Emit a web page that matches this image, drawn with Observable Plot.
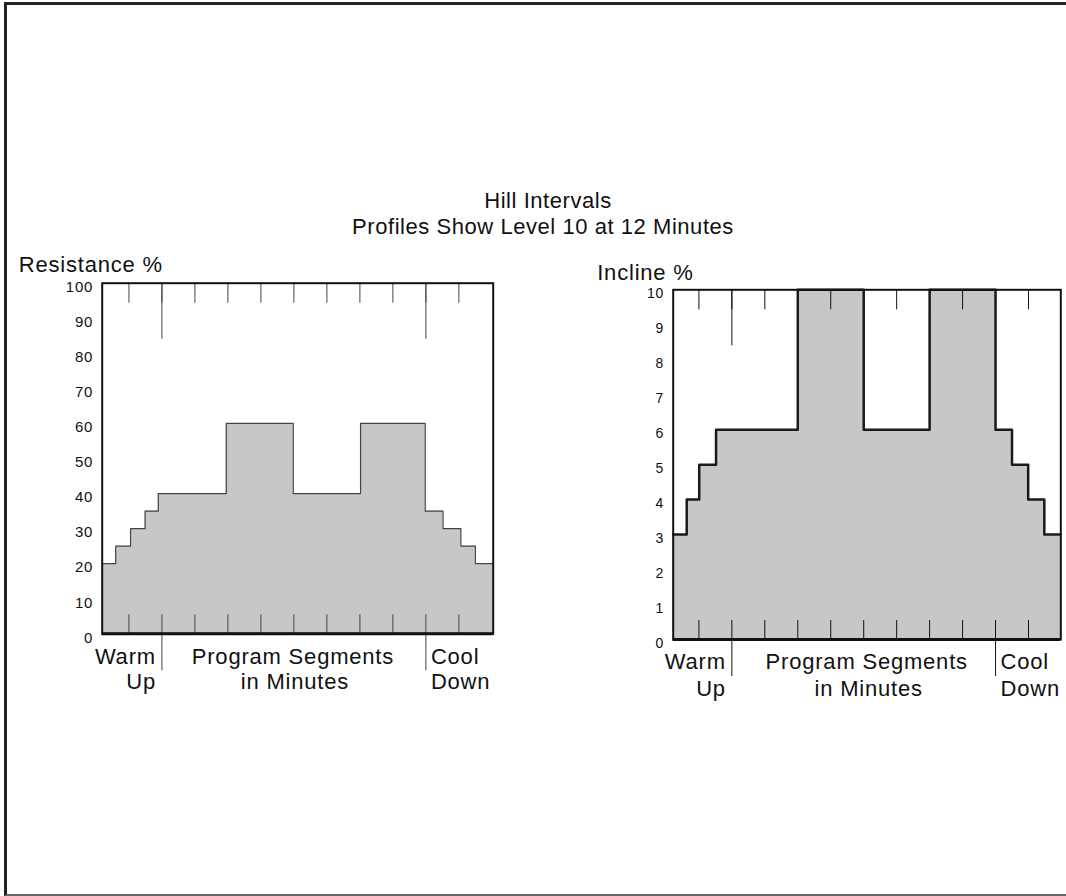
<!DOCTYPE html>
<html>
<head>
<meta charset="utf-8">
<script src="https://cdn.jsdelivr.net/npm/d3@7"></script>
<script src="https://cdn.jsdelivr.net/npm/@observablehq/plot@0.6"></script>
<style>
  body { margin: 0; background: #fff; }
  #page { position: relative; width: 1066px; height: 896px; overflow: hidden;
          font-family: "Liberation Sans", Arial, Helvetica, sans-serif; color: #111; }
  #border { position: absolute; left: 4px; top: 2px; width: 1080px; height: 889px;
            border-top: 3px solid #222; border-left: 3px solid #222; border-bottom: 2px solid #666; }
  .title { position: absolute; width: 600px; text-align: center; font-size: 22px;
           line-height: 22px; letter-spacing: 0.55px; white-space: nowrap; }
  .chart { position: absolute; }
</style>
</head>
<body>
<div id="page">
  <div id="border"></div>
  <div class="title" id="t1" style="left:248px;top:190px;">Hill Intervals</div>
  <div class="title" id="t2" style="left:243px;top:216px;">Profiles Show Level 10 at 12 Minutes</div>
  <div class="chart" id="left" style="left:0px;top:240px;"></div>
  <div class="chart" id="right" style="left:560px;top:240px;"></div>
</div>
<script>
// ---- data ----
const minuteTicks = [1, 2, 3, 4, 5, 6, 7, 8, 9, 10, 11];
const phaseTicks = [2, 10];
const resistanceEdges = [0.19, 0.6, 1.05, 1.49, 1.89, 3.95, 5.98, 8.02, 9.98, 10.52, 11.06, 11.5, 12.04];
const resistanceLevels = [20, 25, 30, 35, 40, 60, 40, 60, 35, 30, 25, 20];
const resistanceTicks = [0, 10, 20, 30, 40, 50, 60, 70, 80, 90, 100];
const inclineEdges = [0.22, 0.63, 1.01, 1.52, 4.0, 6.0, 8.0, 10.0, 10.5, 10.99, 11.48, 11.98];
const inclineLevels = [3, 4, 5, 6, 10, 6, 10, 6, 5, 4, 3];
const inclineTicks = [0, 1, 2, 3, 4, 5, 6, 7, 8, 9, 10];
const phaseText = { warm: "Warm", up: "Up", prog: "Program Segments", mins: "in Minutes", cool: "Cool", down: "Down" };

function steps(edges, levels) {
  return edges.map((x, i) => ({ x, y: levels[Math.min(i, levels.length - 1)] }));
}

function makeChart(cfg) {
  const data = steps(cfg.edges, cfg.levels);
  const innerH = cfg.height - cfg.marginTop - cfg.marginBottom;
  const big = { fontSize: 22, frameAnchor: "bottom", lineAnchor: "bottom", fill: "#111" };
  return Plot.plot({
    width: cfg.width, height: cfg.height,
    marginLeft: cfg.marginLeft, marginRight: cfg.marginRight,
    marginTop: cfg.marginTop, marginBottom: cfg.marginBottom,
    style: { background: "none", fontFamily: '"Liberation Sans", Arial, sans-serif', letterSpacing: "0.8px", maxWidth: "none", overflow: "visible" },
    x: { domain: d3.extent(cfg.edges), axis: null },
    y: { domain: [0, cfg.ymax], axis: null },
    marks: [
      Plot.areaY(data, { x: "x", y: "y", curve: "step-after", fill: "#c6c7c9" }),
      // top inner ticks
      Plot.ruleX(minuteTicks, { x: d => d, insetBottom: innerH - 20, stroke: cfg.tickColor, strokeWidth: 1 }),
      Plot.ruleX(phaseTicks, { x: d => d, insetBottom: innerH - 56, stroke: cfg.tickColor, strokeWidth: 1 }),
      // bottom inner ticks
      Plot.ruleX(minuteTicks, { x: d => d, insetTop: innerH - 19, stroke: cfg.tickColor, strokeWidth: 1 }),
      Plot.ruleX(phaseTicks, { x: d => d, insetTop: innerH, insetBottom: -37, stroke: cfg.tickColor, strokeWidth: 1 }),
      Plot.lineY(data, { x: "x", y: "y", curve: "step-after", stroke: cfg.lineColor, strokeWidth: cfg.lineWidth }),
      Plot.frame({ stroke: "#111", strokeWidth: 2 }),
      Plot.ruleY([0], { stroke: "#111", strokeWidth: 3 }),
      // y tick labels
      Plot.text(cfg.yticks, { y: d => d, text: d => String(d), frameAnchor: "left", textAnchor: "end", dx: -9, dy: 4, fontSize: cfg.tickFont, fill: "#111" }),
      Plot.text([cfg.ylabel], { text: d => d, frameAnchor: "top-left", textAnchor: "start", lineAnchor: "bottom", dx: cfg.ylabelDx, dy: cfg.ylabelDy, fontSize: 22, fill: "#111" }),
      Plot.text([phaseText.warm], { ...big, text: d => d, x: [2], textAnchor: "end", dx: -6, dy: cfg.row1 }),
      Plot.text([phaseText.up], { ...big, text: d => d, x: [2], textAnchor: "end", dx: -6, dy: cfg.row2 }),
      Plot.text([phaseText.prog], { ...big, text: d => d, x: [6], textAnchor: "middle", dx: cfg.midDx, dy: cfg.row1 }),
      Plot.text([phaseText.mins], { ...big, text: d => d, x: [6], textAnchor: "middle", dx: cfg.midDx + 2, dy: cfg.row2 }),
      Plot.text([phaseText.cool], { ...big, text: d => d, x: [10], textAnchor: "start", dx: 5, dy: cfg.row1 }),
      Plot.text([phaseText.down], { ...big, text: d => d, x: [10], textAnchor: "start", dx: 5, dy: cfg.row2 })
    ]
  });
}

document.getElementById("left").append(makeChart({
  edges: resistanceEdges, levels: resistanceLevels, ymax: 100, yticks: resistanceTicks,
  width: 520, height: 480, marginLeft: 101.7, marginRight: 27.3, marginTop: 42.7, marginBottom: 86.7,
  tickColor: "#444", lineColor: "#444", lineWidth: 1.2, tickFont: 15,
  ylabel: "Resistance %", ylabelDx: -83.4, ylabelDy: -11,
  row1: 30, row2: 55, midDx: -1
}));

document.getElementById("right").append(makeChart({
  edges: inclineEdges, levels: inclineLevels, ymax: 10, yticks: inclineTicks,
  width: 506, height: 480, marginLeft: 112.7, marginRight: 5.7, marginTop: 49.3, marginBottom: 81,
  tickColor: "#111", lineColor: "#1a1a1a", lineWidth: 2.5, tickFont: 14,
  ylabel: "Incline %", ylabelDx: -76, ylabelDy: -10,
  row1: 29, row2: 56, midDx: 3
}));
</script>
</body>
</html>
